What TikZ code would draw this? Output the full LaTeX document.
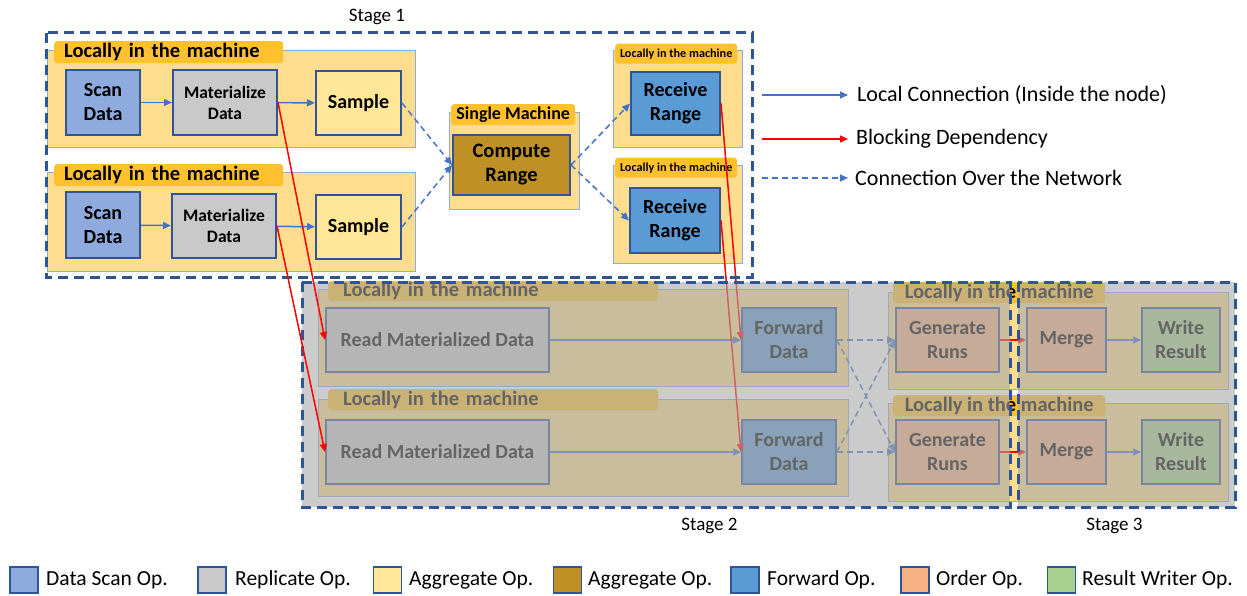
\documentclass[tikz,border=0pt]{standalone}
\usepackage{fontspec}
\setmainfont{Carlito}
\usetikzlibrary{arrows.meta}

\definecolor{opline}{HTML}{2F5597}
\definecolor{machfill}{HTML}{FFDD8E}
\definecolor{machline}{HTML}{8FAADC}
\definecolor{tabfill}{HTML}{FFC12E}
\definecolor{conn}{HTML}{4472C4}
\definecolor{blockred}{HTML}{FF0000}
\definecolor{scanc}{HTML}{8FAADC}
\definecolor{repc}{HTML}{C9C9C9}
\definecolor{aggc}{HTML}{FFE699}
\definecolor{aggd}{HTML}{BF9026}
\definecolor{fwdc}{HTML}{5B9BD5}
\definecolor{ordc}{HTML}{F4B183}
\definecolor{wrc}{HTML}{A9D18E}
\definecolor{shade}{RGB}{168,168,168}

\begin{document}
\begin{tikzpicture}[x=1pt,y=-1pt,
  machine/.style={fill=machfill, draw=machline, line width=1pt},
  tabbox/.style={fill=tabfill, rounded corners=3pt, inner ysep=0pt, anchor=north west,
    font=\bfseries\fontsize{20.5}{22}\selectfont},
  op/.style={draw=opline, line width=2pt, align=center, inner sep=0pt,
    font=\bfseries\fontsize{20}{24}\selectfont},
  local/.style={draw=conn, line width=1.5pt, -{Triangle[length=8pt,width=7pt]}},
  block/.style={draw=blockred, line width=1.5pt, -{Triangle[length=8pt,width=7pt]}},
  net/.style={draw=conn, line width=1.5pt, dash pattern=on 6pt off 4pt, -{Triangle[length=8pt,width=7pt]}},
  stagebox/.style={draw=opline, line width=3pt, dash pattern=on 10pt off 6pt},
  keybox/.style={draw=opline, line width=1.5pt, minimum width=28pt, minimum height=26pt, inner sep=0pt},
  keytext/.style={anchor=west, inner sep=0pt, font=\fontsize{21.5}{24}\selectfont},
  legtext/.style={anchor=west, inner sep=0pt, font=\fontsize{22}{24}\selectfont},
]
\useasboundingbox (0,0) rectangle (1247,596);

% ---------------- Stage 1 ----------------
% two scanning machines
\path[machine] (47,51) rectangle (415,148);
\node[tabbox, text width=209pt, inner xsep=10pt, minimum height=22pt] (tabA) at (54,41) {Locally in the machine};
\node[op, fill=scanc, minimum width=74pt, minimum height=65pt] (scan1) at (103,102.5) {Scan\\Data};
\node[op, fill=repc, minimum width=104pt, minimum height=65pt, font=\bfseries\fontsize{17.5}{21}\selectfont] (mat1) at (225,102.5) {Materialize\\Data};
\node[op, fill=aggc, minimum width=85pt, minimum height=64pt] (samp1) at (358.5,103) {Sample};

\path[machine] (47,173) rectangle (415,271);
\node[tabbox, text width=209pt, inner xsep=10pt, minimum height=22pt] (tabB) at (54,164) {Locally in the machine};
\node[op, fill=scanc, minimum width=74pt, minimum height=66pt] (scan2) at (103,225) {Scan\\Data};
\node[op, fill=repc, minimum width=104pt, minimum height=64pt, font=\bfseries\fontsize{17.5}{21}\selectfont] (mat2) at (224,226) {Materialize\\Data};
\node[op, fill=aggc, minimum width=85pt, minimum height=64pt] (samp2) at (358.5,227) {Sample};

% single machine computing the range
\path[machine] (449,113) rectangle (579,210);
\node[tabbox, minimum width=124pt, minimum height=21pt, inner xsep=2pt, font=\bfseries\fontsize{18}{20}\selectfont] (tabC) at (451,104) {Single Machine};
\node[op, fill=aggd, minimum width=117pt, minimum height=60pt, font=\bfseries\fontsize{20.5}{24}\selectfont] (comp) at (511.5,165) {Compute\\Range};

% receiving machines
\path[machine] (613,51) rectangle (742,148);
\node[tabbox, minimum width=122pt, minimum height=20pt, inner xsep=1pt, font=\bfseries\fontsize{12.2}{14}\selectfont] (tabD) at (615,43.5) {Locally in the machine};
\node[op, fill=fwdc, minimum width=89pt, minimum height=63pt] (recv1) at (675.5,103.5) {Receive\\Range};

\path[machine] (613,166) rectangle (742,263);
\node[tabbox, minimum width=122pt, minimum height=20pt, inner xsep=1pt, font=\bfseries\fontsize{12.2}{14}\selectfont] (tabE) at (615,157.5) {Locally in the machine};
\node[op, fill=fwdc, minimum width=90pt, minimum height=65pt] (recv2) at (675,220.5) {Receive\\Range};

\draw[local] (scan1) -- (mat1);
\draw[local] (mat1) -- (samp1);
\draw[local] (scan2) -- (mat2);
\draw[local] (mat2) -- (samp2);
\draw[net] (samp1.east) -- (comp.west);
\draw[net] (samp2.east) -- (comp.west);
\draw[net] (comp.east) -- (recv1.west);
\draw[net] (comp.east) -- (recv2.west);

% ---------------- Stages 2 and 3 ----------------
\path[machine] (318,289) rectangle (848,386);
\node[tabbox, text width=300pt, inner xsep=15pt, minimum height=20pt] (tabF) at (328,281) {Locally in the machine};
\node[op, fill=repc, minimum width=223pt, minimum height=64pt] (read1) at (437.5,340) {Read Materialized Data};
\node[op, fill=fwdc, minimum width=94pt, minimum height=64pt] (fwd1) at (789,340) {Forward\\Data};

\path[machine] (318,399) rectangle (848,496);
\node[tabbox, text width=300pt, inner xsep=15pt, minimum height=21pt] (tabG) at (328,389) {Locally in the machine};
\node[op, fill=repc, minimum width=223pt, minimum height=64pt] (read2) at (437.5,452) {Read Materialized Data};
\node[op, fill=fwdc, minimum width=94pt, minimum height=64pt] (fwd2) at (789,452) {Forward\\Data};

\path[machine] (888,292) rectangle (1228,389);
\node[tabbox, minimum width=212pt, inner xsep=0pt, minimum height=21pt] (tabH) at (893,282) {Locally in the machine};
\node[op, fill=ordc, minimum width=103pt, minimum height=64pt] (gen1) at (947.5,340) {Generate\\Runs};
\node[op, fill=ordc, minimum width=79pt, minimum height=64pt] (merge1) at (1066.5,340) {Merge};
\node[op, fill=wrc, minimum width=78pt, minimum height=64pt] (write1) at (1181,340) {Write\\Result};

\path[machine] (888,403) rectangle (1228,501);
\node[tabbox, minimum width=212pt, inner xsep=0pt, minimum height=21pt] (tabI) at (893,395) {Locally in the machine};
\node[op, fill=ordc, minimum width=103pt, minimum height=64pt] (gen2) at (947.5,452) {Generate\\Runs};
\node[op, fill=ordc, minimum width=79pt, minimum height=64pt] (merge2) at (1066.5,452) {Merge};
\node[op, fill=wrc, minimum width=78pt, minimum height=64pt] (write2) at (1181,452) {Write\\Result};

\draw[local] (read1) -- (fwd1);
\draw[local] (read2) -- (fwd2);
\draw[local] (merge1) -- (write1);
\draw[local] (merge2) -- (write2);
\draw[net] (fwd1.east) -- (gen1.west);
\draw[net] (fwd1.east) -- (gen2.west);
\draw[net] (fwd2.east) -- (gen1.west);
\draw[net] (fwd2.east) -- (gen2.west);
\draw[block] (gen1) -- (merge1);
\draw[block] (gen2) -- (merge2);
\draw[block] (recv1.east) -- (fwd1.west);
\draw[block] (recv2.east) -- (fwd2.west);

% shaded stage areas and stage borders
\path[fill=shade, fill opacity=0.6] (302,282) rectangle (1010,507);
\path[fill=shade, fill opacity=0.6] (1018,282) rectangle (1235,507);
\draw[stagebox] (46,33) rectangle (752,277);
\draw[stagebox] (302,282) rectangle (1010,507);
\draw[stagebox] (1018,282) rectangle (1235,507);

\draw[block] (mat1.east) -- (read1.west);
\draw[block] (mat2.east) -- (read2.west);

% stage labels
\node[font=\fontsize{19}{21}\selectfont] (lab1) at (377,17) {Stage 1};
\node[font=\fontsize{19}{21}\selectfont] (lab2) at (709.5,526) {Stage 2};
\node[font=\fontsize{19}{21}\selectfont] (lab3) at (1114.5,526) {Stage 3};

% connector key
\coordinate (k1a) at (762,95);  \coordinate (k1b) at (848,95);
\coordinate (k2a) at (762,139); \coordinate (k2b) at (848,139);
\coordinate (k3a) at (762,178); \coordinate (k3b) at (848,178);
\draw[local] (k1a) -- (k1b);
\draw[block] (k2a) -- (k2b);
\draw[net] (k3a) -- (k3b);
\node[legtext] (k1t) at (857,95) {Local Connection (Inside the node)};
\node[legtext] (k2t) at (856,139) {Blocking Dependency};
\node[legtext] (k3t) at (855,178) {Connection Over the Network};

% operator colour key
\node[keybox, fill=scanc] (c1) at (24,580) {};
\node[keytext] (c1t) at (46,580) {Data Scan Op.};
\node[keybox, fill=repc] (c2) at (212,580) {};
\node[keytext] (c2t) at (235,580) {Replicate Op.};
\node[keybox, fill=aggc] (c3) at (387.5,580) {};
\node[keytext] (c3t) at (409,580) {Aggregate Op.};
\node[keybox, fill=aggd] (c4) at (567.5,580) {};
\node[keytext] (c4t) at (588,580) {Aggregate Op.};
\node[keybox, fill=fwdc] (c5) at (745,580) {};
\node[keytext] (c5t) at (767,580) {Forward Op.};
\node[keybox, fill=ordc] (c6) at (915,580) {};
\node[keytext] (c6t) at (936,580) {Order Op.};
\node[keybox, fill=wrc] (c7) at (1061.5,580) {};
\node[keytext] (c7t) at (1082,580) {Result Writer Op.};
\end{tikzpicture}
\end{document}
